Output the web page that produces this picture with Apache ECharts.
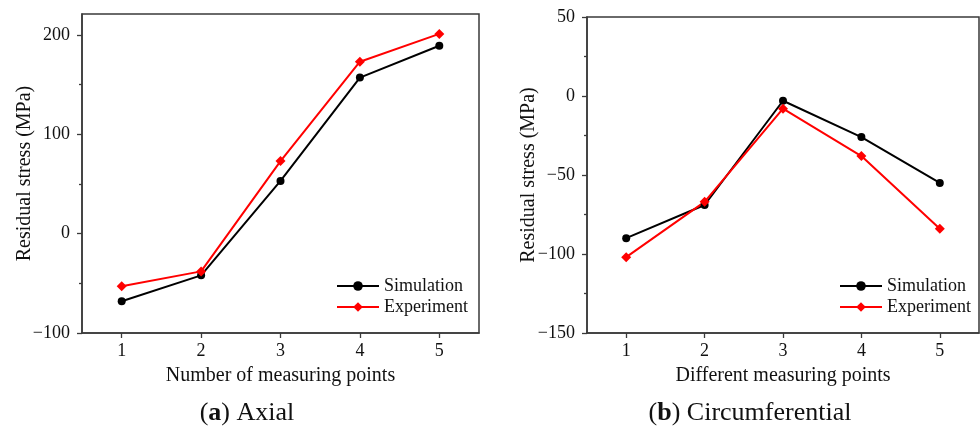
<!DOCTYPE html>
<html>
<head>
<meta charset="utf-8">
<script src="https://cdn.jsdelivr.net/npm/echarts@6/dist/echarts.min.js"></script>
<style>
  html, body { margin: 0; padding: 0; background: #fff; }
  #main { width: 980px; height: 426px; }
</style>
</head>
<body>
<div id="main"></div>
<script>
'use strict';

// measuring points
var points = ['1', '2', '3', '4', '5'];

// (a) axial residual stress, MPa
var axialSim = [-68, -42, 53, 157, 189];
var axialExp = [-53, -38, 73, 173, 201];

// (b) circumferential residual stress, MPa
var circSim = [-90, -69, -3, -26, -55];
var circExp = [-102, -67, -8, -38, -84];

// tick values
var axialRange = [-100, 221];
var axialTicks = [-100, 0, 100, 200];
var axialMinor = [-50, 50, 150];
var circRange = [-150, 50];
var circTicks = [-150, -100, -50, 0, 50];
var circMinor = [-125, -75, -25, 25];

var FONT = '"Liberation Serif", "Times New Roman", serif';
var AXIS_COLOR = '#3a3a3a';

var myChart = echarts.init(document.getElementById('main'));

function yAxis(grid, range, ticks, gap) {
    return {
        type: 'value',
        gridIndex: grid,
        position: 'left',
        min: range[0],
        max: range[1],
        name: 'Residual stress (MPa)',
        nameLocation: 'middle',
        nameGap: gap,
        nameMoveOverlap: false,
        nameTextStyle: { fontFamily: FONT, fontSize: 20, color: '#111' },
        axisLine: { show: true, onZero: false, lineStyle: { color: AXIS_COLOR, width: 1.5 } },
        axisTick: { show: true, inside: false, length: 5, customValues: ticks, lineStyle: { color: AXIS_COLOR, width: 1.3 } },
        axisLabel: { customValues: ticks, fontFamily: FONT, fontSize: 18, color: '#111', margin: 12,
            formatter: function(v) { return String(v).replace('-', '\u2212'); } },
        splitLine: { show: false }
    };
}

// extra axis on the same side, only for the short minor ticks
function minorYAxis(grid, range, ticks) {
    return {
        type: 'value',
        gridIndex: grid,
        position: 'left',
        min: range[0],
        max: range[1],
        axisLine: { show: false, onZero: false },
        axisTick: { show: true, length: 3, customValues: ticks, lineStyle: { color: AXIS_COLOR, width: 1.3 } },
        axisLabel: { show: false },
        splitLine: { show: false }
    };
}

function xAxis(grid, title) {
    return {
        type: 'category',
        gridIndex: grid,
        position: 'bottom',
        data: points,
        boundaryGap: true,
        name: title,
        nameLocation: 'middle',
        nameGap: 33,
        nameTextStyle: { fontFamily: FONT, fontSize: 20, color: '#111' },
        axisLine: { show: true, onZero: false, lineStyle: { color: AXIS_COLOR, width: 1.5 } },
        axisTick: { show: true, alignWithLabel: true, length: 5, lineStyle: { color: AXIS_COLOR, width: 1.3 } },
        axisLabel: { fontFamily: FONT, fontSize: 18, color: '#111', margin: 9 },
        splitLine: { show: false }
    };
}

function line(name, color, symbol, size, x, y, data) {
    return {
        name: name,
        type: 'line',
        xAxisIndex: x,
        yAxisIndex: y,
        data: data,
        symbol: symbol,
        symbolSize: size,
        itemStyle: { color: color },
        lineStyle: { color: color, width: 2 },
        emphasis: { disabled: true },
        animation: false
    };
}

function legend(left) {
    return {
        orient: 'vertical',
        left: left,
        top: 277,
        padding: 0,
        itemWidth: 42,
        itemHeight: 12,
        itemGap: 3,
        data: ['Simulation', 'Experiment'],
        textStyle: { fontFamily: FONT, fontSize: 18, color: '#111', lineHeight: 18 }
    };
}

var option = {
    backgroundColor: '#fff',
    animation: false,
    grid: [
        { left: 82, top: 14, width: 397, height: 319, show: true, borderColor: AXIS_COLOR, borderWidth: 1.5 },
        { left: 587, top: 17, width: 392, height: 316, show: true, borderColor: AXIS_COLOR, borderWidth: 1.5 }
    ],
    legend: [legend(336), legend(839)],
    xAxis: [
        xAxis(0, 'Number of measuring points'),
        xAxis(1, 'Different measuring points')
    ],
    yAxis: [
        yAxis(0, axialRange, axialTicks, 47),
        minorYAxis(0, axialRange, axialMinor),
        yAxis(1, circRange, circTicks, 48),
        minorYAxis(1, circRange, circMinor)
    ],
    series: [
        line('Simulation', '#000000', 'circle', 8, 0, 0, axialSim),
        line('Experiment', '#ff0000', 'diamond', 10, 0, 0, axialExp),
        line('Simulation', '#000000', 'circle', 8, 1, 2, circSim),
        line('Experiment', '#ff0000', 'diamond', 10, 1, 2, circExp)
    ],
    graphic: [{
        type: 'text',
        x: 247,
        y: 413,
        style: {
            text: '({b|a}) Axial',
            align: 'center',
            verticalAlign: 'middle',
            fontFamily: FONT,
            fontSize: 26,
            fill: '#111',
            rich: { b: { fontFamily: FONT, fontSize: 26, fontWeight: 'bold', fill: '#111' } }
        }
    }, {
        type: 'text',
        x: 750,
        y: 413,
        style: {
            text: '({b|b}) Circumferential',
            align: 'center',
            verticalAlign: 'middle',
            fontFamily: FONT,
            fontSize: 26,
            fill: '#111',
            rich: { b: { fontFamily: FONT, fontSize: 26, fontWeight: 'bold', fill: '#111' } }
        }
    }]
};

myChart.setOption(option);
</script>
</body>
</html>
